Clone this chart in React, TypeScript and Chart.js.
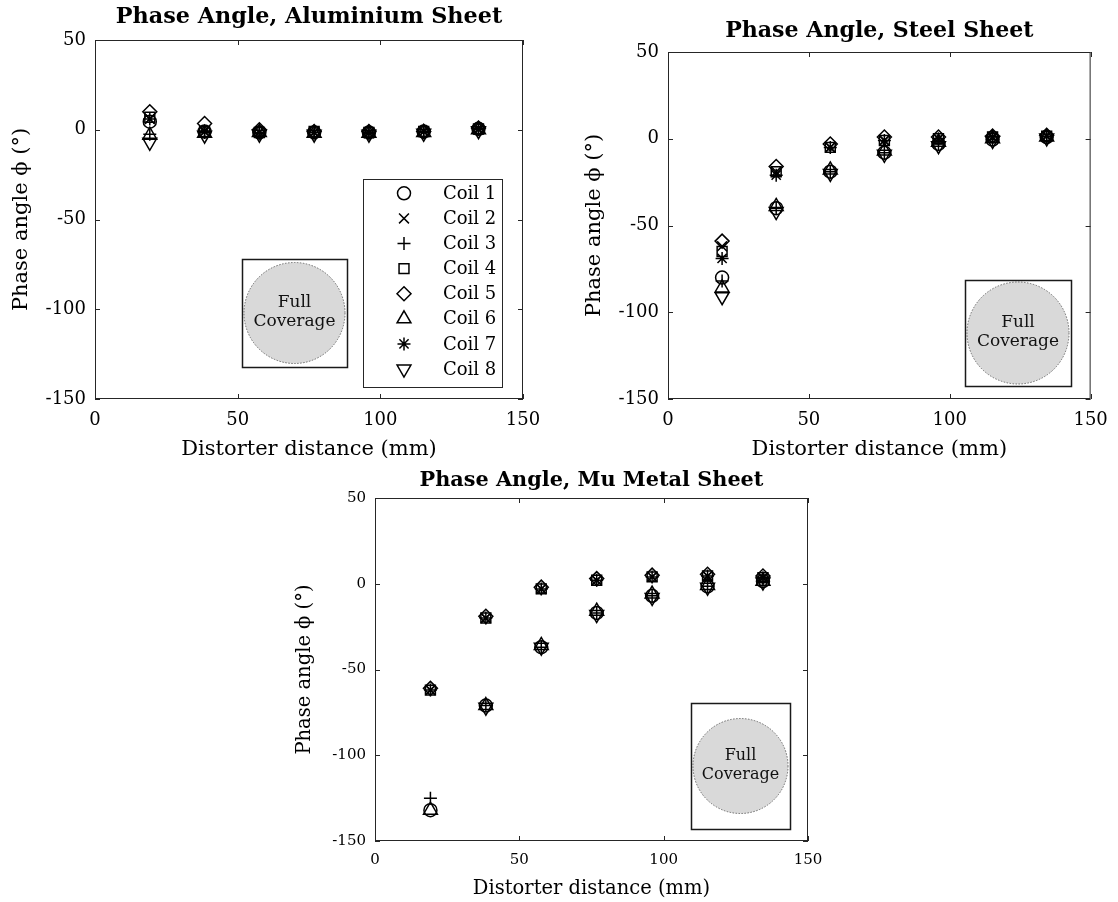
import React, { useEffect, useRef } from 'react';
import { Chart, registerables } from 'chart.js';
import * as helpers from 'chart.js/helpers';

Chart.register(...registerables);

// ---------------- DATA ----------------
const distances = [19.2, 38.4, 57.6, 76.8, 96, 115.2, 134.4];
const coilNames = ['Coil 1', 'Coil 2', 'Coil 3', 'Coil 4', 'Coil 5', 'Coil 6', 'Coil 7', 'Coil 8'];
const xTickValues = [0, 50, 100, 150];
const yTickValues = [-150, -100, -50, 0, 50];
const xTickLabels = ['0', '50', '100', '150'];
const yTickLabels = ['-150', '-100', '-50', '0', '50'];

// Aluminium sheet
const alCoil1 = [4.5, -1, -1.5, -1.5, -1.5, -1, 0.5];
const alCoil2 = [6, -1, -1.5, -1.5, -2, -1, 0];
const alCoil3 = [-2.5, -1.5, -2, -1.5, -2, -1.5, 0];
const alCoil4 = [7, -1, -1.5, -1, -1.5, -1, 0.5];
const alCoil5 = [10, 3.5, 0, -1, -1, -1, 1];
const alCoil6 = [-3, -2, -1.5, -2, -2, -1.5, 0];
const alCoil7 = [6, -1, -1.5, -1.5, -1.5, -1, 0.5];
const alCoil8 = [-7, -3, -2.5, -2.5, -2.5, -2, -0.5];

// Steel sheet
const stCoil1 = [-80, -40, -19, -8, -3, -0.5, 1];
const stCoil2 = [-62, -19, -5, -1, 0, 1, 1.5];
const stCoil3 = [-82, -40, -19, -8, -3, -0.5, 1];
const stCoil4 = [-65, -19, -5, -1, 0, 1, 1.5];
const stCoil5 = [-59, -16, -3, 1, 1, 1.5, 2];
const stCoil6 = [-86, -39, -18, -7, -2, 0, 1];
const stCoil7 = [-69, -21, -5, -1, 0, 1, 1.5];
const stCoil8 = [-91, -42, -20, -9, -4, -1, 0.5];

// Mu metal sheet
const muCoil1 = [-132, -71, -37, -17, -7, -1.5, 1.5];
const muCoil2 = [-62, -20, -3, 2, 4, 4.5, 3.5];
const muCoil3 = [-125, -71, -37, -17, -7, -1.5, 1.5];
const muCoil4 = [-62, -20, -3, 2, 4, 4.5, 3.5];
const muCoil5 = [-61, -19, -2, 3, 5, 5.5, 4.5];
const muCoil6 = [-132, -71, -36, -16, -6, -1, 1.5];
const muCoil7 = [-62, -20, -3, 2, 4, 4.5, 3.5];
const muCoil8 = [null, -72, -37, -18, -8, -2, 1];

// ---------------- STYLE ----------------
const FONT = "'DejaVu Serif', 'Liberation Serif', serif";
const AXIS_COLOR = '#262626';
const markerStyles = ['circle', 'crossRot', 'cross', 'rect', 'rectRot', 'triangle', 'star', 'triangle'];
const markerRotations = [0, 0, 0, 0, 0, 0, 0, 180];
const markerRadii = [6.5, 7, 6.5, 7, 7, 8, 6.5, 8];
const MARKER_WIDTH = 1.5;

type Inset = { x0: number; x1: number; y0: number; y1: number };
type PlotCfg = {
  id: string;
  title: string;
  series: (number | null)[][];
  left: number; top: number; width: number; height: number;
  padRight: number;
  titleSize: number; titlePadTop: number; titlePadBottom: number;
  yAxisWidth: number; yTitleSize: number; yTitlePad: number; yTickPad: number;
  xAxisHeight: number; xTitleSize: number; xTitlePadBottom: number; xTickPad: number;
  tickSize: number;
  inset: Inset;
  insetFont: number;
  legend: boolean;
};

const plots: PlotCfg[] = [
  {
    id: 'al', title: 'Phase Angle, Aluminium Sheet',
    series: [alCoil1, alCoil2, alCoil3, alCoil4, alCoil5, alCoil6, alCoil7, alCoil8],
    left: 0, top: 0, width: 560, height: 470, padRight: 37,
    titleSize: 22.3, titlePadTop: 3.6, titlePadBottom: 9.64,
    yAxisWidth: 95, yTitleSize: 21, yTitlePad: 9.4, yTickPad: 9,
    xAxisHeight: 71, xTitleSize: 21, xTitlePadBottom: 7.4, xTickPad: 10.2,
    tickSize: 18,
    inset: { x0: 51.4, x1: 88.2, y0: -72.2, y1: -132.3 }, insetFont: 17,
    legend: true,
  },
  {
    id: 'st', title: 'Phase Angle, Steel Sheet',
    series: [stCoil1, stCoil2, stCoil3, stCoil4, stCoil5, stCoil6, stCoil7, stCoil8],
    left: 560, top: 0, width: 558, height: 470, padRight: 23,
    titleSize: 22.1, titlePadTop: 17.7, titlePadBottom: 7.78,
    yAxisWidth: 108, yTitleSize: 21, yTitlePad: 22.4, yTickPad: 9,
    xAxisHeight: 71, xTitleSize: 21, xTitlePadBottom: 7.4, xTickPad: 10.2,
    tickSize: 18,
    inset: { x0: 105.4, x1: 143.0, y0: -81.4, y1: -142.5 }, insetFont: 17,
    legend: false,
  },
  {
    id: 'mu', title: 'Phase Angle, Mu Metal Sheet',
    series: [muCoil1, muCoil2, muCoil3, muCoil4, muCoil5, muCoil6, muCoil7, muCoil8],
    left: 280, top: 460, width: 560, height: 442, padRight: 32,
    titleSize: 20.8, titlePadTop: 8.5, titlePadBottom: 4.54,
    yAxisWidth: 95, yTitleSize: 19.5, yTitlePad: 13.3, yTickPad: 9,
    xAxisHeight: 61, xTitleSize: 19.5, xTitlePadBottom: 1.3, xTickPad: 10,
    tickSize: 15,
    inset: { x0: 109.5, x1: 143.8, y0: -69.5, y1: -143.0 }, insetFont: 16,
    legend: false,
  },
];

// ---------------- PLUGINS ----------------
const framePlugin = {
  id: 'frame',
  afterDatasetsDraw(chart: any) {
    const { ctx, chartArea: a, scales } = chart;
    const xs = scales.x, ys = scales.y;
    ctx.save();
    ctx.strokeStyle = AXIS_COLOR;
    ctx.lineWidth = 1;
    ctx.strokeRect(a.left + 0.5, a.top + 0.5, a.right - a.left - 1, a.bottom - a.top - 1);
    const tl = 5;
    ctx.beginPath();
    xTickValues.forEach((v) => {
      const px = Math.round(xs.getPixelForValue(v)) + 0.5;
      ctx.moveTo(px, a.bottom); ctx.lineTo(px, a.bottom - tl);
      ctx.moveTo(px, a.top); ctx.lineTo(px, a.top + tl);
    });
    yTickValues.forEach((v) => {
      const py = Math.round(ys.getPixelForValue(v)) + 0.5;
      ctx.moveTo(a.left, py); ctx.lineTo(a.left + tl, py);
      ctx.moveTo(a.right, py); ctx.lineTo(a.right - tl, py);
    });
    ctx.stroke();
    ctx.restore();
  },
};

function makeInsetPlugin(cfg: PlotCfg) {
  return {
    id: 'inset',
    afterDatasetsDraw(chart: any) {
      const { ctx, scales } = chart;
      const xs = scales.x, ys = scales.y;
      const l = Math.round(xs.getPixelForValue(cfg.inset.x0));
      const r = Math.round(xs.getPixelForValue(cfg.inset.x1));
      const t = Math.round(ys.getPixelForValue(cfg.inset.y0));
      const b = Math.round(ys.getPixelForValue(cfg.inset.y1));
      const cx = (l + r) / 2, cy = (t + b) / 2;
      const rad = Math.min(r - l, b - t) / 2 - 2;
      ctx.save();
      ctx.fillStyle = '#ffffff';
      ctx.fillRect(l, t, r - l, b - t);
      ctx.beginPath();
      ctx.arc(cx, cy, rad, 0, Math.PI * 2);
      ctx.fillStyle = '#d9d9d9';
      ctx.fill();
      ctx.setLineDash([1.5, 1.5]);
      ctx.strokeStyle = '#6e6e6e';
      ctx.lineWidth = 1;
      ctx.stroke();
      ctx.setLineDash([]);
      ctx.strokeStyle = '#1a1a1a';
      ctx.lineWidth = 1.5;
      ctx.strokeRect(l + 0.5, t + 0.5, r - l, b - t);
      ctx.fillStyle = '#111';
      ctx.font = `${cfg.insetFont}px ${FONT}`;
      ctx.textAlign = 'center';
      ctx.textBaseline = 'middle';
      ctx.fillText('Full', cx, cy - 10);
      ctx.fillText('Coverage', cx, cy + 9);
      ctx.restore();
    },
  };
}

const legendPlugin = {
  id: 'insideLegend',
  afterDatasetsDraw(chart: any) {
    const { ctx, chartArea: a } = chart;
    const boxW = 139, boxH = 208;
    const right = a.right - 21, bottom = a.bottom - 12;
    const left = right - boxW, top = bottom - boxH;
    ctx.save();
    ctx.fillStyle = '#fff';
    ctx.fillRect(left, top, boxW, boxH);
    ctx.strokeStyle = AXIS_COLOR;
    ctx.lineWidth = 1;
    ctx.strokeRect(left + 0.5, top + 0.5, boxW, boxH);
    const rowStart = top + 14.3, rowStep = 25.1;
    coilNames.forEach((name, i) => {
      const y = rowStart + i * rowStep;
      ctx.strokeStyle = '#000';
      ctx.fillStyle = 'rgba(0,0,0,0)';
      ctx.lineWidth = MARKER_WIDTH;
      (helpers as any).drawPoint(ctx, {
        pointStyle: markerStyles[i], rotation: markerRotations[i],
        radius: markerRadii[i], borderWidth: MARKER_WIDTH,
      }, left + 41, y);
      ctx.fillStyle = '#000';
      ctx.font = `18px ${FONT}`;
      ctx.textAlign = 'left';
      ctx.textBaseline = 'middle';
      ctx.fillText(name, left + 80, y + 1);
    });
    ctx.restore();
  },
};

// ---------------- CHART ----------------
function PlotCanvas({ cfg }: { cfg: PlotCfg }) {
  const ref = useRef<HTMLCanvasElement | null>(null);
  useEffect(() => {
    if (!ref.current) return;
    const datasets = cfg.series.map((vals, i) => ({
      label: coilNames[i],
      data: distances.map((x, j) => ({ x, y: vals[j] })),
      showLine: false,
      pointStyle: markerStyles[i],
      pointRotation: markerRotations[i],
      pointRadius: markerRadii[i],
      pointHoverRadius: markerRadii[i],
      pointBorderColor: '#000',
      pointBackgroundColor: 'rgba(0,0,0,0)',
      pointBorderWidth: MARKER_WIDTH,
    }));
    const plugins: any[] = [framePlugin, makeInsetPlugin(cfg)];
    if (cfg.legend) plugins.push(legendPlugin);
    const chart = new Chart(ref.current, {
      type: 'scatter',
      data: { datasets: datasets as any },
      plugins,
      options: {
        responsive: false,
        animation: false,
        devicePixelRatio: 1,
        events: [],
        layout: { padding: { top: 0, right: cfg.padRight, bottom: 0, left: 0 } },
        plugins: {
          legend: { display: false },
          tooltip: { enabled: false },
          title: {
            display: true,
            text: cfg.title,
            fullSize: false,
            color: '#000',
            font: { family: FONT, size: cfg.titleSize, weight: 'bold', lineHeight: 1.2 },
            padding: { top: cfg.titlePadTop, bottom: cfg.titlePadBottom },
          },
        },
        scales: {
          x: {
            type: 'linear',
            min: 0, max: 150,
            afterBuildTicks: (s: any) => { s.ticks = xTickValues.map((v) => ({ value: v })); },
            afterFit: (s: any) => { s.height = cfg.xAxisHeight; },
            grid: { display: false, drawTicks: false },
            border: { display: false },
            ticks: {
              autoSkip: false, maxRotation: 0, minRotation: 0,
              padding: cfg.xTickPad, color: '#000',
              font: { family: FONT, size: cfg.tickSize, lineHeight: 1.2 },
              callback: (v: any) => xTickLabels[xTickValues.indexOf(Number(v))] ?? '',
            },
            title: {
              display: true, text: 'Distorter distance (mm)', color: '#000',
              font: { family: FONT, size: cfg.xTitleSize, lineHeight: 1.2 },
              padding: { top: 0, bottom: cfg.xTitlePadBottom },
            },
          },
          y: {
            type: 'linear',
            min: -150, max: 50,
            afterBuildTicks: (s: any) => { s.ticks = yTickValues.map((v) => ({ value: v })); },
            afterFit: (s: any) => { s.width = cfg.yAxisWidth; },
            grid: { display: false, drawTicks: false },
            border: { display: false },
            ticks: {
              autoSkip: false,
              padding: cfg.yTickPad, color: '#000',
              font: { family: FONT, size: cfg.tickSize, lineHeight: 1.2 },
              callback: (v: any) => yTickLabels[yTickValues.indexOf(Number(v))] ?? '',
            },
            title: {
              display: true, text: 'Phase angle ϕ (°)', color: '#000',
              font: { family: FONT, size: cfg.yTitleSize, lineHeight: 1.2 },
              padding: { top: cfg.yTitlePad, bottom: 0 },
            },
          },
        },
      } as any,
    });
    return () => chart.destroy();
  }, [cfg]);
  return (
    <canvas
      ref={ref}
      width={cfg.width}
      height={cfg.height}
      style={{ position: 'absolute', left: cfg.left, top: cfg.top, width: cfg.width, height: cfg.height }}
    />
  );
}

export default function App() {
  return (
    <div style={{ position: 'absolute', left: 0, top: 0, width: 1118, height: 902, background: '#fff', overflow: 'hidden' }}>
      {plots.map((p) => <PlotCanvas key={p.id} cfg={p} />)}
    </div>
  );
}
